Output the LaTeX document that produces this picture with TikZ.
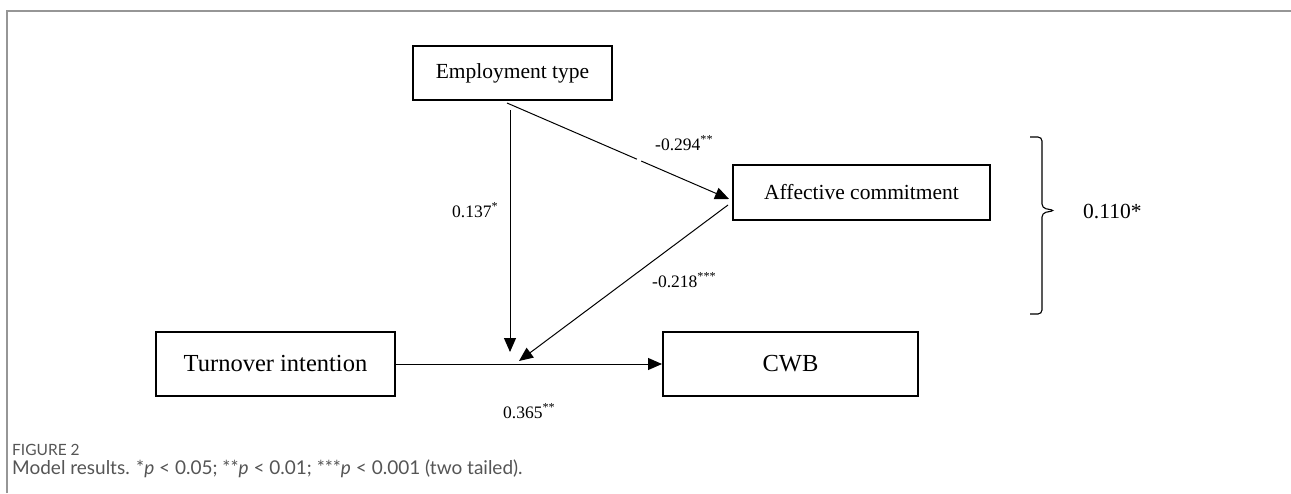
\documentclass[tikz,border=0pt]{standalone}
\usepackage{fontspec}
\setmainfont{Liberation Serif}
\newfontfamily\capfont{Lato}
\usetikzlibrary{arrows.meta,calc}
\definecolor{framegray}{RGB}{150,150,150}
\definecolor{capgray}{RGB}{85,85,85}
\begin{document}
\begin{tikzpicture}[x=1pt,y=-1pt,
    box/.style={draw,line width=2pt,inner sep=0pt},
    path/.style={line width=1pt,-{Triangle[length=14pt,width=12pt]}},
    coef/.style={font=\fontsize{17.5}{20}\selectfont,anchor=west,inner sep=0pt}]
  \useasboundingbox (0,0) rectangle (1291,493);
  % frame
  \draw[framegray,line width=2pt] (7,493) -- (7,11) -- (1291,11);
  % boxes
  \node[box,minimum width=199pt,minimum height=54pt,font=\fontsize{21.5}{24}\selectfont] (a) at (512.5,73) {Employment type};
  \node[box,minimum width=257pt,minimum height=55pt,font=\fontsize{21.5}{24}\selectfont] (b) at (861.5,192.5) {Affective commitment};
  \node[box,minimum width=239pt,minimum height=64pt,font=\fontsize{24.5}{28}\selectfont] (c) at (275.5,364) {Turnover intention};
  \node[box,minimum width=255pt,minimum height=64pt,font=\fontsize{24.5}{28}\selectfont] (d) at (790.5,364) {CWB};
  % end points
  \coordinate (a1) at (507,103);
  \coordinate (a2) at (510,110);
  \coordinate (b1) at (729,199);
  \coordinate (b2) at (728,205);
  \coordinate (m1) at (510,352);
  \coordinate (m2) at (519,361);
  % paths
  \draw[line width=1pt] (a1) -- ($(a1)!0.585!(b1)$);
  \draw[path] ($(a1)!0.605!(b1)$) -- (b1);
  \draw[path] (a2) -- (m1);
  \draw[path] (b2) -- (m2);
  \draw[path] (c.east) -- (d.west);
  % coefficients
  \node[coef] (e) at (655,143) {-0.294\textsuperscript{**}};
  \node[coef] (f) at (452,210) {0.137\textsuperscript{*}};
  \node[coef] (g) at (652,280) {-0.218\textsuperscript{***}};
  \node[coef] (h) at (503,411) {0.365\textsuperscript{**}};
  % total effect
  \draw[line width=1.1pt,rounded corners=4pt] (1030,137) -- (1042,137) -- (1042,208) -- (1055,210.5) -- (1042,213) -- (1042,314) -- (1030,314);
  \node[anchor=west,inner sep=0pt,font=\fontsize{21.5}{24}\selectfont] (k) at (1083,211) {0.110*};
  % caption
  \node[anchor=west,inner sep=0pt,text=capgray,font=\capfont\fontsize{15.5}{17}\selectfont] (l) at (12,450) {FIGURE 2};
  \node[anchor=west,inner sep=0pt,text=capgray,font=\capfont\fontsize{19}{21}\selectfont] (n) at (12,469) {Model results. *\textit{p} < 0.05; **\textit{p} < 0.01; ***\textit{p} < 0.001 (two tailed).};
\end{tikzpicture}
\end{document}
